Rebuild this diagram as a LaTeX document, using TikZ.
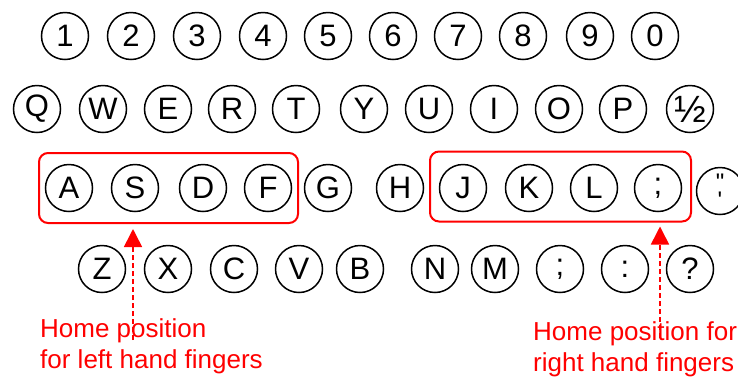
\documentclass[tikz,border=0pt]{standalone}
\usepackage{fontspec}
\setmainfont{Liberation Sans}
\newfontfamily\keyraw[Ligatures=ResetAll]{Liberation Sans}
\usetikzlibrary{arrows.meta}
\tikzset{
  key/.style={circle, draw=black, line width=1.5pt, minimum size=47pt, inner sep=0pt,
    font=\fontsize{31}{31}\selectfont},
  homebox/.style={draw=red, line width=2pt, rounded corners=9pt, minimum width=#1, minimum height=70pt, inner sep=0pt},
  homearrow/.style={draw=red, line width=1.6pt, dash pattern=on 5pt off 3pt,
    -{Triangle[length=18pt,width=18pt]}},
  homelabel/.style={text=red, anchor=north west, inner sep=0pt, align=left,
    font=\fontsize{26}{31}\selectfont}
}
\begin{document}
\begin{tikzpicture}[x=1pt,y=-1pt]
\useasboundingbox (0,0) rectangle (738,376);
% row 1
\node[key] (k1) at (65,36) {1};
\node[key] (k2) at (131,36) {2};
\node[key] (k3) at (197,36) {3};
\node[key] (k4) at (263,36) {4};
\node[key] (k5) at (328,36) {5};
\node[key] (k6) at (393,36) {6};
\node[key] (k7) at (458,36) {7};
\node[key] (k8) at (523,36) {8};
\node[key] (k9) at (590,36) {9};
\node[key] (k0) at (655,36) {0};
% row 2
\node[key] (kQ) at (37,109) {Q};
\node[key] (kW) at (103,109) {W};
\node[key] (kE) at (168,109) {E};
\node[key] (kR) at (232,109) {R};
\node[key] (kT) at (296,109) {T};
\node[key] (kY) at (364,109) {Y};
\node[key] (kU) at (429,109) {U};
\node[key] (kI) at (494,109) {I};
\node[key] (kO) at (559,109) {O};
\node[key] (kP) at (623,109) {P};
\node[key, font=\fontsize{38}{38}\selectfont] (khalf) at (690,109) {½};
% row 3
\node[key] (kA) at (69,188) {A};
\node[key] (kS) at (135,188) {S};
\node[key] (kD) at (203,188) {D};
\node[key] (kF) at (268,188) {F};
\node[key] (kG) at (328,188) {G};
\node[key] (kH) at (400,188) {H};
\node[key] (kJ) at (463,188) {J};
\node[key] (kK) at (529,188) {K};
\node[key] (kL) at (594,188) {L};
\node[key] (ksemi) at (658,188) {;};
\node[key, align=center, font=\keyraw\fontsize{24}{12}\selectfont] (kquote) at (720,191) {\symbol{"22}\\\symbol{"27}};
% row 4
\node[key] (kZ) at (102,269) {Z};
\node[key] (kX) at (168,269) {X};
\node[key] (kC) at (234,269) {C};
\node[key] (kV) at (299,269) {V};
\node[key] (kB) at (360,269) {B};
\node[key] (kN) at (435,269) {N};
\node[key] (kM) at (495,269) {M};
\node[key] (kcomma) at (560,269) {;};
\node[key] (kcolon) at (625,269) {:};
\node[key] (kquest) at (690,269) {?};
% home boxes
\node[homebox=259pt] (lefthome) at (168.5,188) {};
\node[homebox=261pt] (righthome) at (560.5,186.5) {};
% arrows
\coordinate (leftend) at (133,340);
\coordinate (rightend) at (660,338);
\draw[homearrow] (leftend) -- ([yshift=-5pt]lefthome.south -| leftend);
\draw[homearrow] (rightend) -- ([yshift=-4pt]righthome.south -| rightend);
% labels
\node[homelabel] (lefttext) at (40,318) {Home position\\for left hand fingers};
\node[homelabel] (righttext) at (533,321) {Home position for\\right hand fingers};
\end{tikzpicture}
\end{document}
